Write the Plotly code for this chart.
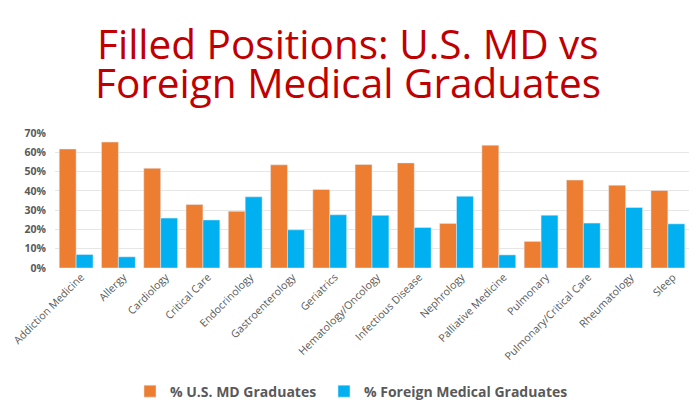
import plotly.graph_objs as go

# Chart data
specialties = ['Addiction Medicine', 'Allergy', 'Cardiology', 'Critical Care', 'Endocrinology',
               'Gastroenterology', 'Geriatrics', 'Hematology/Oncology', 'Infectious Disease',
               'Nephrology', 'Palliative Medicine', 'Pulmonary', 'Pulmonary/Critical Care',
               'Rheumatology', 'Sleep']
us_md = [61.7, 65.3, 51.7, 32.9, 29.4, 53.5, 40.7, 53.7, 54.5, 23.1, 63.7, 13.8, 45.6, 42.9, 40.2]
foreign = [7.0, 5.8, 25.9, 24.9, 36.9, 19.8, 27.6, 27.3, 21.0, 37.2, 6.8, 27.4, 23.3, 31.4, 22.9]
y_ticks = [0, 10, 20, 30, 40, 50, 60, 70]
title_lines = ['Filled Positions: U.S. MD vs', 'Foreign Medical Graduates']

fig = go.Figure()
fig.add_trace(go.Bar(x=specialties, y=us_md, name='% U.S. MD Graduates', marker_color='#ED7D31',
                     legend='legend', showlegend=True))
fig.add_trace(go.Bar(x=specialties, y=foreign, name='% Foreign Medical Graduates', marker_color='#00B0F0',
                     legend='legend2', showlegend=True))

# page body shifts the figure 8px right and down, so margins are set in figure pixels
W, H = 692, 411
m_l, m_r, m_t, m_b = 47, 11, 125, 145
plot_w, plot_h = W - m_l - m_r, H - m_t - m_b

legend_style = dict(orientation='h', xanchor='left', y=-0.915, yanchor='middle',
                    font=dict(size=14, color='#595959', weight='bold'), itemwidth=30)

fig.update_layout(
    width=W, height=H,
    margin=dict(l=m_l, r=m_r, t=m_t, b=m_b),
    paper_bgcolor='white', plot_bgcolor='white',
    showlegend=True,
    barmode='group', bargap=0.2, bargroupgap=0,
    font=dict(family='Open Sans', color='#595959'),
    xaxis=dict(tickangle=-45, tickfont=dict(size=10.6, color='#595959'), showline=False,
               ticks='', automargin=False, ticklabelshift=5),
    yaxis=dict(range=[0, 70], tickvals=y_ticks, ticktext=[f'{v}%' for v in y_ticks],
               tickfont=dict(size=10.5, color='#595959', weight='bold'),
               gridcolor='#E6E6E6', zeroline=False, automargin=False, ticklabelstandoff=8),
    legend=dict(x=(122 - m_l) / plot_w, **legend_style),
    legend2=dict(x=(316 - m_l) / plot_w, **legend_style),
)

# Title lines placed as annotations (tight line spacing like the slide)
title_font = dict(family='Open Sans', size=40.5, color='#C00000')
for txt, ypix in zip(title_lines, [31, 72]):
    fig.add_annotation(text=txt, x=(340 - m_l) / plot_w, xref='paper',
                       y=1 + (m_t - ypix) / plot_h, yref='paper',
                       showarrow=False, font=title_font, xanchor='center', yanchor='middle')

fig.write_html('out.html')
